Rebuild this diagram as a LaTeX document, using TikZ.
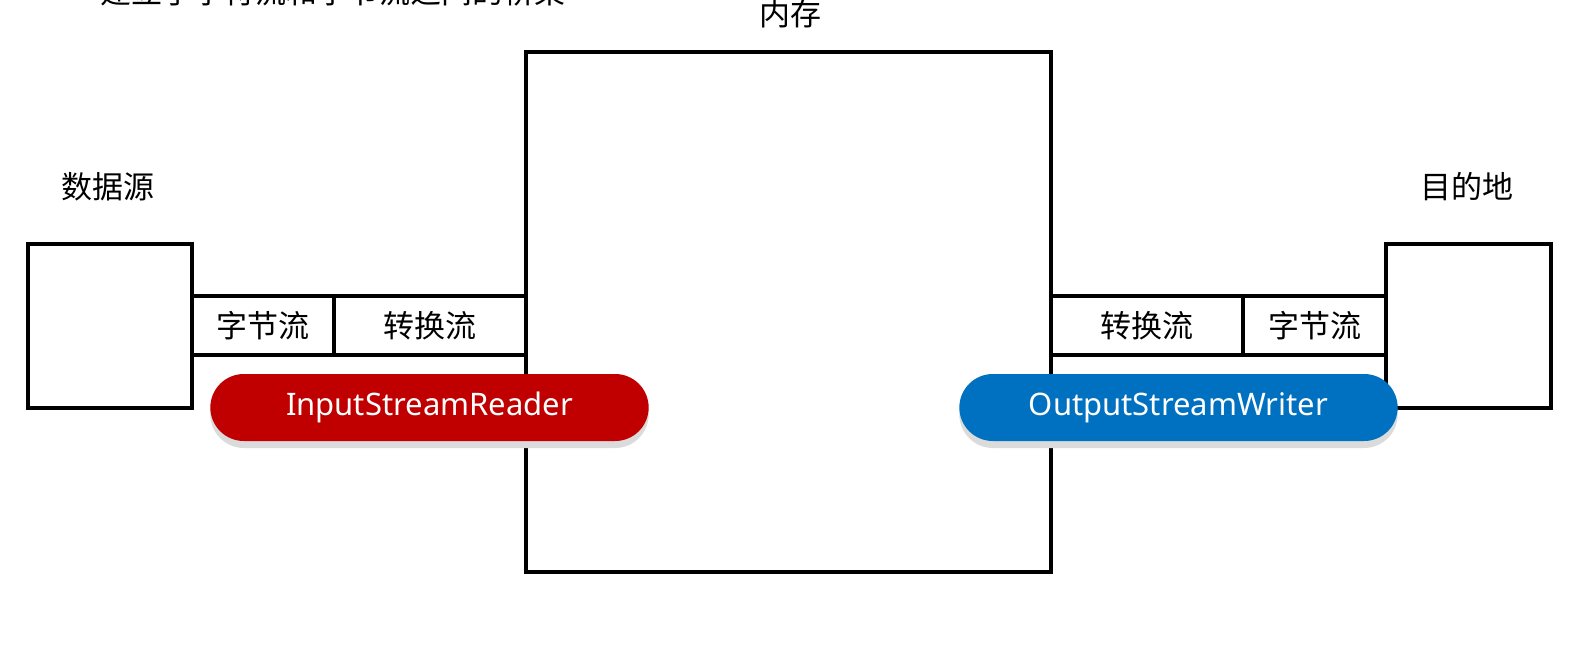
\documentclass[tikz,border=0pt]{standalone}
\usepackage{fontspec}
\setmainfont{Noto Sans CJK SC}
\newfontfamily\latinfont{Noto Sans}
\usetikzlibrary{shapes.misc,shadows,positioning}
\definecolor{readred}{RGB}{192,0,0}
\definecolor{writeblue}{RGB}{0,112,192}
\tikzset{
  frame/.style={draw=black, line width=4pt, inner sep=0pt},
  cell/.style={frame, minimum height=59pt, font=\fontsize{31}{36}\selectfont},
  label/.style={inner sep=0pt, font=\fontsize{31}{36}\selectfont},
  pill/.style={rounded rectangle, minimum width=445pt, minimum height=67pt,
    text=white, font=\latinfont\fontsize{31}{36}\selectfont,
    drop shadow={shadow xshift=0pt, shadow yshift=-7pt, fill=black!14, opacity=1}}
}
\begin{document}
\begin{tikzpicture}[x=1pt,y=-1pt]
  \useasboundingbox (0,0) rectangle (1596,647);
  % title, cut off by the top edge
  \node[label, anchor=base west] (title) at (100,4) {建立了字符流和字节流之间的桥梁};
  % memory
  \node[frame, minimum width=525pt, minimum height=520pt] (mem) at (788.5,312) {};
  \node[label] (memlabel) at (790,14) {内存};
  % source and destination
  \node[frame, minimum width=164pt, minimum height=164pt] (src) at (110,326) {};
  \node[label] (srclabel) at (108,187) {数据源};
  \node[frame, minimum width=165pt, minimum height=164pt] (dst) at (1468.5,326) {};
  \node[label] (dstlabel) at (1467,187) {目的地};
  % input side
  \node[cell, minimum width=142pt] (inbyte) at (263,325.5) {字节流};
  \node[cell, minimum width=192pt] (inconv) at (430,325.5) {转换流};
  % output side
  \node[cell, minimum width=192pt] (outconv) at (1147,325.5) {转换流};
  \node[cell, minimum width=143pt] (outbyte) at (1314.5,325.5) {字节流};
  % the two classes
  \node[pill, fill=readred] (reader) at (429.5,407.5) {InputStreamReader};
  \node[pill, fill=writeblue] (writer) at (1178.5,407.5) {OutputStreamWriter};
\end{tikzpicture}
\end{document}
